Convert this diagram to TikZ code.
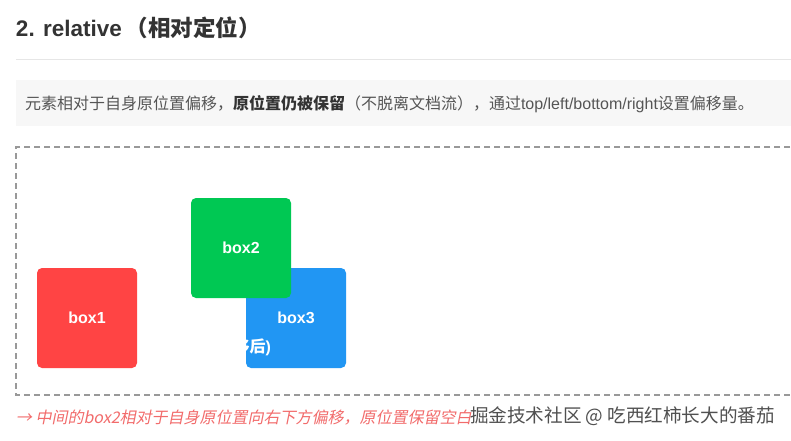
\documentclass[tikz,border=0pt]{standalone}
\usepackage{fontspec}
\setmainfont{Liberation Sans}
\newfontfamily\cjk{Noto Sans CJK SC}
\newfontfamily\cjkit[FakeSlant=0.2]{Noto Sans CJK SC}
\definecolor{titlegray}{HTML}{333333}
\definecolor{linegray}{HTML}{E6E6E6}
\definecolor{descbg}{HTML}{F7F7F7}
\definecolor{desctext}{HTML}{555555}
\definecolor{dashgray}{HTML}{999999}
\definecolor{boxred}{HTML}{FF4444}
\definecolor{boxgreen}{HTML}{00C853}
\definecolor{boxblue}{HTML}{2196F3}
\definecolor{notered}{HTML}{F26B6B}
\definecolor{wmgray}{HTML}{505050}
\begin{document}
\begin{tikzpicture}[x=1pt,y=-1pt,
  txt/.style={inner sep=0pt,outer sep=0pt},
  demobox/.style={minimum width=100pt,minimum height=100pt,rounded corners=5pt,inner sep=0pt,text=white,font=\fontsize{16}{18}\selectfont\bfseries}]
\useasboundingbox[fill=white] (0,0) rectangle (791,440);
% title
\node[txt,anchor=base west,text=titlegray,font=\fontsize{22.5}{26}\selectfont\bfseries] (title) at (16,36) {2. relative\hspace{4pt}{\cjk （相对定位）}};
\draw[linegray,line width=1pt] (16,59) -- (791,59);
% description
\fill[descbg] (16,80) rectangle (791,126);
\node[txt,anchor=base west,text=desctext,font=\fontsize{16}{18}\selectfont] (desc) at (25,109)
 {\cjk 元素相对于自身原位置偏移，{\bfseries\color{titlegray}原位置仍被保留}（不脱离文档流），通过{\rmfamily top/left/bottom/right}设置偏移量。};
% dashed container
\draw[dashgray,line width=1.6pt,dash pattern=on 6pt off 4pt] (800,147) -- (16,147) -- (16,395) -- (800,395);
% boxes
\node[demobox,fill=boxblue] (box3) at (296,318) {box3};
\begin{scope}
  \clip[rounded corners=5pt] (246,268) rectangle (346,368);
  \node[txt,anchor=base east,text=white,font=\fontsize{16}{18}\selectfont\bfseries] (hidden) at (271,352) {{\cjk 偏移后})};
\end{scope}
\node[demobox,fill=boxgreen] (box2) at (241,248) {box2};
\node[demobox,fill=boxred] (box1) at (87,318) {box1};
% note
\node[txt,anchor=base west,text=notered,font=\fontsize{16}{18}\selectfont] (note) at (16,423)
 {\cjkit → 中间的box2相对于自身原位置向右下方偏移，原位置保留空白};
% watermark
\node[txt,anchor=base west,text=white,font=\fontsize{18.6}{22}\selectfont] at (471,422.8) {\cjk 掘金技术社区 @ 吃西红柿长大的番茄};
\node[txt,anchor=base west,text=wmgray,font=\fontsize{18.6}{22}\selectfont] (wm) at (470,422) {\cjk 掘金技术社区 @ 吃西红柿长大的番茄};
\end{tikzpicture}
\end{document}
